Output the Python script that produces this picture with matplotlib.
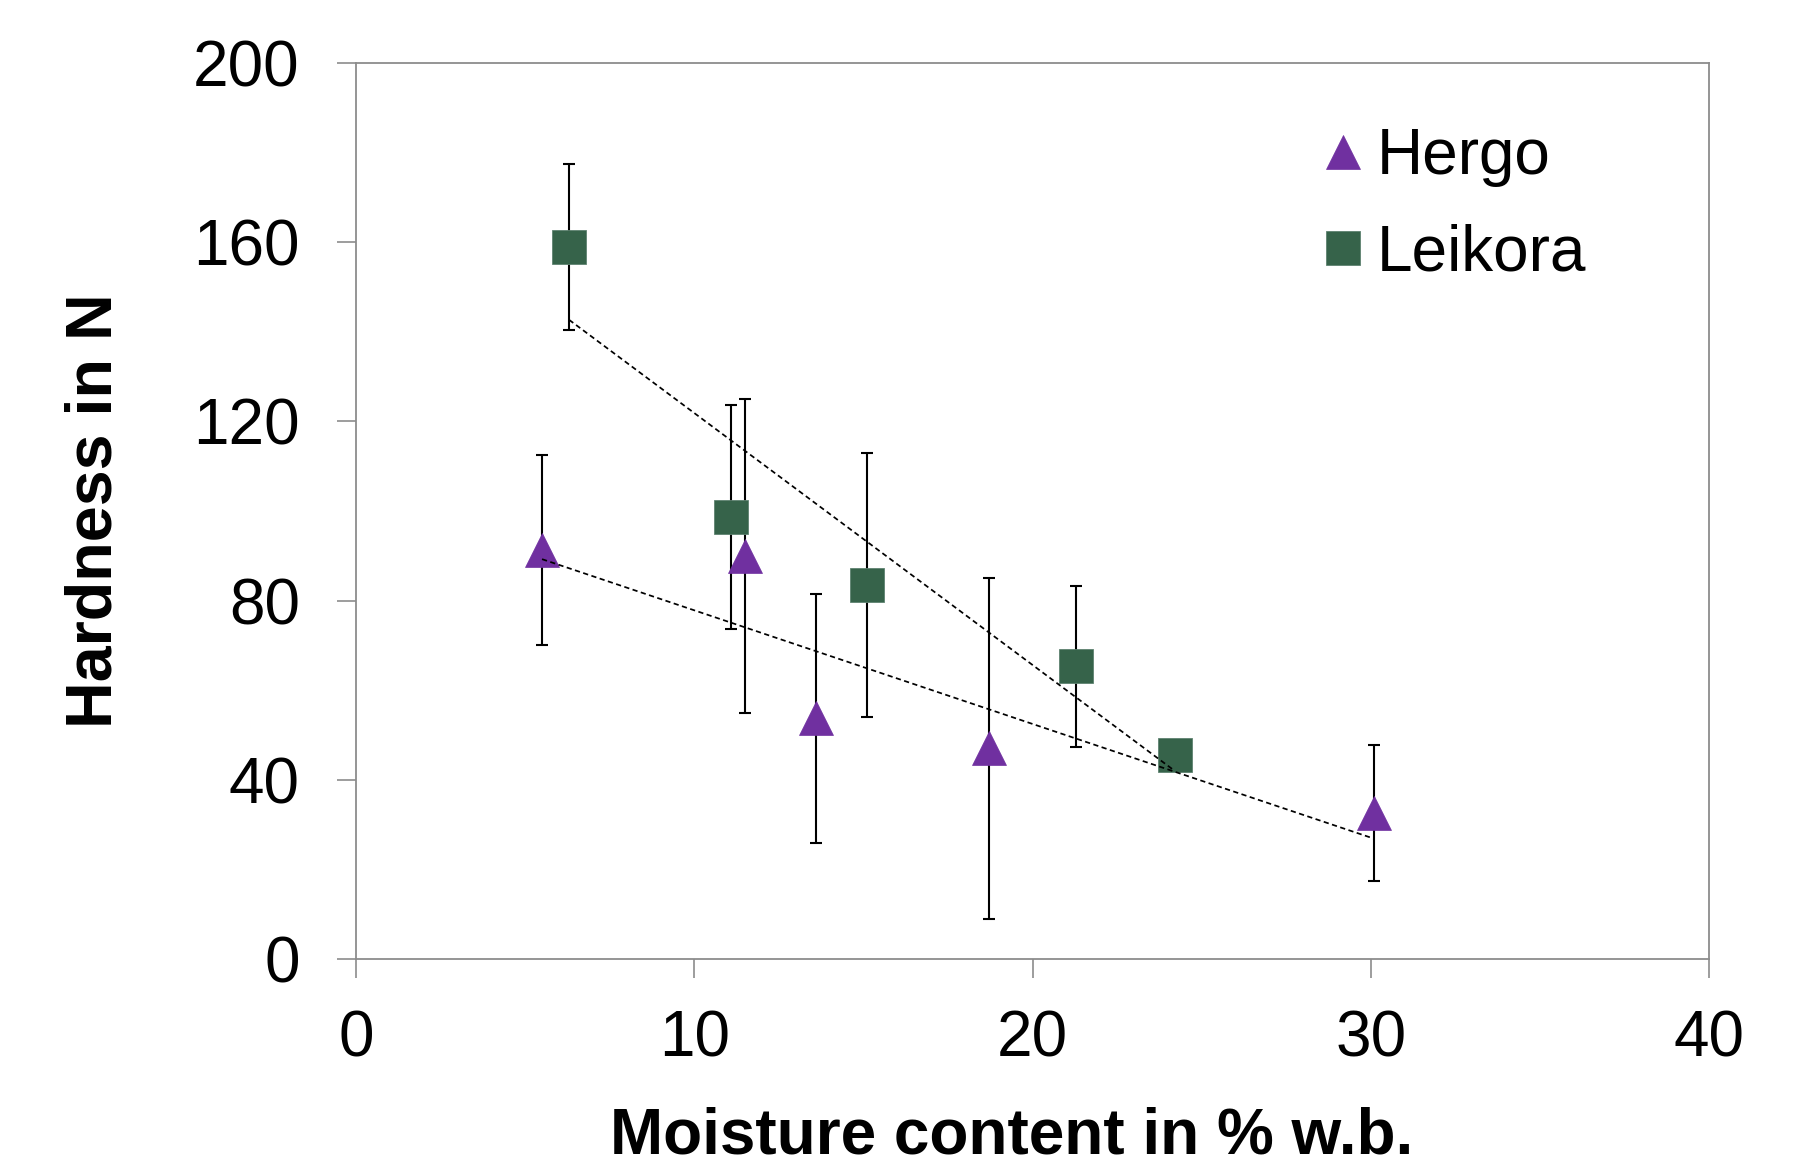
import numpy as np
import matplotlib
matplotlib.use("Agg")
import matplotlib.pyplot as plt

plt.rcParams['font.family'] = ['Liberation Sans', 'DejaVu Sans']

# Data
hergo_x = [5.5, 11.5, 13.6, 18.7, 30.1]
hergo_y = [91.3, 90.0, 53.7, 47.0, 32.6]
hergo_err = [21.3, 35.0, 27.7, 38.0, 15.2]

leikora_x = [6.3, 11.1, 15.1, 21.3, 24.2]
leikora_y = [158.9, 98.7, 83.5, 65.3, 45.5]
leikora_err = [18.5, 25.0, 29.5, 18.0, 3.0]

x_ticks = [0, 10, 20, 30, 40]
y_ticks = [0, 40, 80, 120, 160, 200]

purple = '#7030A0'
green = '#36634A'
gray = '#8C8C8C'

fig = plt.figure(figsize=(18.05, 11.66), dpi=100)
ax = fig.add_axes([356/1805, 1-959/1166, (1709-356)/1805, (959-63)/1166])

ax.errorbar(hergo_x, hergo_y, yerr=hergo_err, fmt='none', ecolor='black',
            elinewidth=1.5, capsize=4, capthick=1.5, zorder=2)
ax.errorbar(leikora_x, leikora_y, yerr=leikora_err, fmt='none', ecolor='black',
            elinewidth=1.5, capsize=4, capthick=1.5, zorder=2)

ax.plot(hergo_x, hergo_y, linestyle='none', marker='^', ms=24, color=purple,
        markeredgecolor=purple, markeredgewidth=0.5, label='Hergo', zorder=3)
ax.plot(leikora_x, leikora_y, linestyle='none', marker='s', ms=24, color=green,
        markeredgecolor='#5E8270', markeredgewidth=0.6, label='Leikora', zorder=3)

# Linear trend lines
for xs, ys in [(hergo_x, hergo_y), (leikora_x, leikora_y)]:
    k, b = np.polyfit(xs, ys, 1)
    xx = np.array([min(xs), max(xs)])
    ax.plot(xx, k*xx + b, color='black', linestyle=(0, (3, 2)), lw=1.25, zorder=4)

ax.set_xlim(0, 40)
ax.set_ylim(0, 200)
ax.set_xticks(x_ticks)
ax.set_yticks(y_ticks)
ax.tick_params(axis='both', direction='out', length=13.5, width=1.2, color=gray,
               labelsize=46)
ax.tick_params(axis='y', pad=27)
ax.tick_params(axis='x', pad=23)
for sp in ax.spines.values():
    sp.set_color(gray)
    sp.set_linewidth(1.3)

ax.set_xlabel('Moisture content in % w.b.', fontsize=46, fontweight='bold')
ax.set_ylabel('Hardness in N', fontsize=46.5, fontweight='bold')
ax.xaxis.set_label_coords((1012-356)/(1709-356), -(1106-959)/(959-63))
ax.yaxis.set_label_coords(-(356-125)/(1709-356), 0.5)

leg = ax.legend(loc='upper left', bbox_to_anchor=(1317/1805, 1-127/1166),
                bbox_transform=fig.transFigure, frameon=False, fontsize=46,
                handletextpad=0.13, labelspacing=0.57, handlelength=0.8,
                markerscale=1.0, borderpad=0, borderaxespad=0)

fig.savefig('out.png', dpi=100)
